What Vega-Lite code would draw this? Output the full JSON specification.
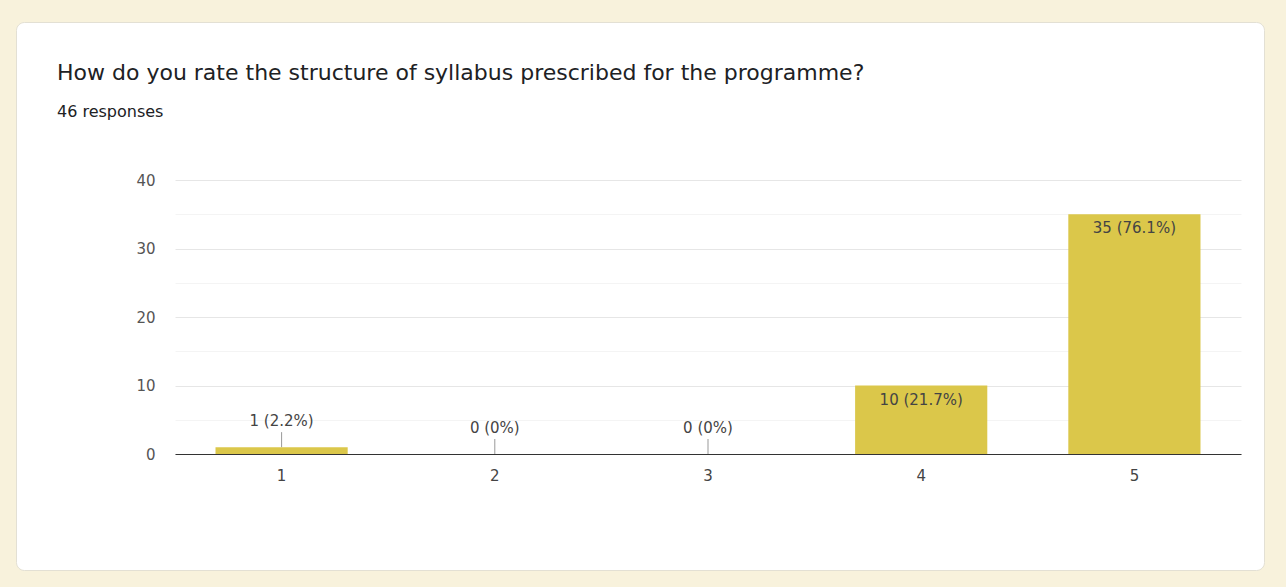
{
  "$schema": "https://vega.github.io/schema/vega-lite/v6.json",
  "width": 1248,
  "height": 548,
  "autosize": {"type": "none"},
  "padding": {"left": 16, "top": 22, "right": 22, "bottom": 17},
  "background": "#f8f2dc",
  "view": {"fill": "#ffffff", "stroke": "#e3e0d4", "cornerRadius": 8, "strokeWidth": 1},
  "title": {
    "text": "How do you rate the structure of syllabus prescribed for the programme?",
    "subtitle": "46 responses",
    "anchor": "start",
    "frame": "group",
    "offset": -99,
    "dx": 41,
    "font": "DejaVu Sans",
    "fontSize": 22,
    "fontWeight": "normal",
    "color": "#202124",
    "subtitleFont": "DejaVu Sans",
    "subtitleFontSize": 16,
    "subtitleColor": "#202124",
    "subtitlePadding": 19
  },
  "data": {
    "values": [
      {"rating": "1", "count": 1, "label": "1 (2.2%)"},
      {"rating": "2", "count": 0, "label": "0 (0%)"},
      {"rating": "3", "count": 0, "label": "0 (0%)"},
      {"rating": "4", "count": 10, "label": "10 (21.7%)"},
      {"rating": "5", "count": 35, "label": "35 (76.1%)"}
    ]
  },
  "encoding": {
    "x": {
      "field": "rating",
      "type": "ordinal",
      "scale": {"range": [159, 1225], "paddingInner": 0.38, "paddingOuter": 0.19},
      "axis": {
        "title": null,
        "orient": "bottom",
        "offset": -116,
        "domainColor": "#333333",
        "domainWidth": 1,
        "ticks": false,
        "labelPadding": 14,
        "labelFont": "DejaVu Sans",
        "labelFontSize": 15,
        "labelColor": "#444444",
        "labelAngle": 0,
        "grid": false
      }
    },
    "y": {
      "field": "count",
      "type": "quantitative",
      "scale": {"domain": [0, 40], "range": [432, 158], "nice": false},
      "axis": {
        "title": null,
        "offset": -159,
        "values": [0, 5, 10, 15, 20, 25, 30, 35, 40],
        "domain": false,
        "ticks": false,
        "labelPadding": 20,
        "labelFont": "DejaVu Sans",
        "labelFontSize": 15,
        "labelColor": "#555555",
        "labelExpr": "datum.value % 10 === 0 ? datum.label : ''",
        "gridColor": {"condition": {"test": "datum.value % 10 === 0", "value": "#e6e6e6"}, "value": "#f4f4f4"}
      }
    }
  },
  "layer": [
    {"mark": {"type": "bar", "color": "#dbc74a"}},
    {
      "transform": [{"filter": "datum.count >= 5"}],
      "mark": {"type": "text", "dy": 14, "baseline": "middle", "color": "#444444", "font": "DejaVu Sans", "fontSize": 15},
      "encoding": {"text": {"field": "label"}}
    },
    {
      "transform": [{"filter": "datum.count < 5"}],
      "mark": {"type": "rule", "color": "#999999", "y2Offset": -15},
      "encoding": {"y2": {"field": "count"}}
    },
    {
      "transform": [{"filter": "datum.count < 5"}],
      "mark": {"type": "text", "dy": -26, "baseline": "middle", "color": "#444444", "font": "DejaVu Sans", "fontSize": 15},
      "encoding": {"text": {"field": "label"}}
    }
  ]
}
